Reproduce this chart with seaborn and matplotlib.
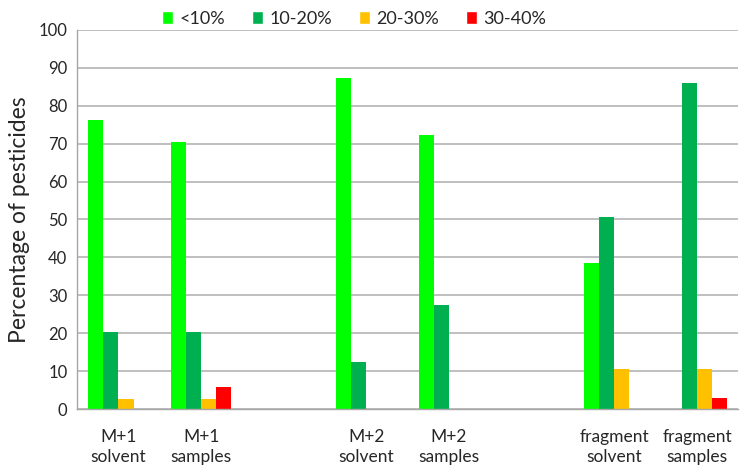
import numpy as np
import pandas as pd
import matplotlib
matplotlib.use("Agg")
import matplotlib.pyplot as plt
import seaborn as sns
from matplotlib.patches import Patch

# categories (blank slots keep the gaps between groups)
categories = ["M+1\nsolvent", "M+1\nsamples", " ",
              "M+2\nsolvent", "M+2\nsamples", "  ",
              "fragment\nsolvent", "fragment\nsamples"]
ranges = ["<10%", "10-20%", "20-30%", "30-40%"]

under_10 = [76.3, 70.3, 0, 87.3, 72.2, 0, 38.4, 0]
from_10_20 = [20.4, 20.4, 0, 12.3, 27.4, 0, 50.6, 86.0]
from_20_30 = [2.8, 2.8, 0, 0, 0, 0, 10.5, 10.5]
from_30_40 = [0, 5.8, 0, 0, 0, 0, 0, 3.0]

colors = {"<10%": "#00FF00", "10-20%": "#00B050",
          "20-30%": "#FFC000", "30-40%": "#FF0000"}

series = [under_10, from_10_20, from_20_30, from_30_40]
rows = []
for rng, vals in zip(ranges, series):
    for cat, v in zip(categories, vals):
        rows.append({"category": cat, "range": rng, "value": v})
df = pd.DataFrame(rows)

sns.set_style("white")
plt.rcParams["font.family"] = ["Lato", "DejaVu Sans"]

fig = plt.figure(figsize=(7.42, 4.66), dpi=100)
ax = fig.add_axes([0.104, 0.122, 0.891, 0.814])

sns.barplot(data=df, x="category", y="value", hue="range", order=categories,
            hue_order=ranges, palette=colors, saturation=1, width=0.727, gap=0,
            linewidth=0, errorbar=None, ax=ax, legend=False)

ax.set_ylim(0, 100)
ax.set_xlim(-0.5, len(categories) - 0.5)
ax.set_yticks(np.arange(0, 101, 10))
ax.yaxis.grid(True, color="#B4B4B4", linewidth=1.2)
ax.set_axisbelow(True)

for side in ["top", "right"]:
    ax.spines[side].set_visible(False)
for side in ["left", "bottom"]:
    ax.spines[side].set_color("#A6A6A6")
    ax.spines[side].set_linewidth(1.0)

ax.set_xlabel("")
ax.set_ylabel("Percentage of pesticides", fontsize=16.5, labelpad=6)
ax.tick_params(axis="y", labelsize=12, length=4, color="#A6A6A6", pad=3)
ax.tick_params(axis="x", which="major", labelsize=12.5, length=0, pad=14)
ax.set_xticks(np.arange(-0.5, len(categories)), minor=True)
ax.tick_params(axis="x", which="minor", length=5, color="#A6A6A6")
for lbl in ax.get_xticklabels():
    lbl.set_linespacing(1.35)

handles = [Patch(facecolor=colors[r], label=r) for r in ranges]
fig.legend(handles=handles, loc="upper center", bbox_to_anchor=(0.477, 1.012),
           ncol=4, frameon=False, fontsize=13, handlelength=0.6,
           handleheight=0.8, handletextpad=0.35, columnspacing=1.5)

fig.savefig("out.png", dpi=100)
